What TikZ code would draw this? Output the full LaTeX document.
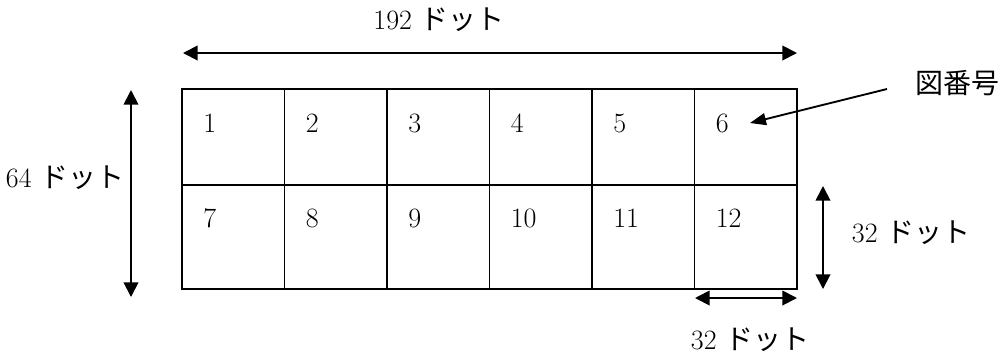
\documentclass[tikz,border=0pt]{standalone}
\usepackage{fontspec}
\newfontfamily\jpfont{Noto Sans CJK JP}
\usetikzlibrary{arrows.meta}
\begin{document}
\begin{tikzpicture}[x=0.75pt,y=-0.75pt,
  gridline/.style={line width=1.4pt},
  dimarrow/.style={line width=1.4pt,{Triangle[length=11pt,width=11pt]}-{Triangle[length=11pt,width=11pt]}},
  ptrarrow/.style={line width=1.4pt,-{Triangle[length=12pt,width=9pt]}},
  num/.style={anchor=west,inner sep=0pt,font=\fontsize{21}{24}\selectfont},
  dimlabel/.style={inner sep=0pt,font=\fontsize{21}{24}\selectfont}]
\useasboundingbox (0,0) rectangle (999,355);
% grid
\coordinate (tl) at (182,89);
\coordinate (br) at (797,289);
\draw[gridline] (tl) rectangle (br);
\draw[gridline] (182,185) -- (797,185);
\foreach \x in {284.5,387,489.5,592,694.5}{\draw[gridline] (\x,89) -- (\x,289);}
% numbers
\foreach \i/\x in {1/182,2/284.5,3/387,4/489.5,5/592,6/694.5}{
  \node[num] (n\i) at (\x+21,123) {\i};}
\foreach \i/\x in {7/182,8/284.5,9/387,10/489.5,11/592,12/694.5}{
  \node[num] (n\i) at (\x+21,218) {\i};}
% dimension arrows
\coordinate (ta) at (183,53); \coordinate (tb) at (797,53);
\draw[dimarrow] (ta) -- (tb);
\node[dimlabel] (t192) at (439,20) {192 {\jpfont ドット}};
\coordinate (la) at (131,90); \coordinate (lb) at (131,297);
\draw[dimarrow] (la) -- (lb);
\node[dimlabel] (t64) at (65,178) {64 {\jpfont ドット}};
\coordinate (ra) at (823,186); \coordinate (rb) at (823,289);
\draw[dimarrow] (ra) -- (rb);
\node[dimlabel] (t32r) at (911,233) {32 {\jpfont ドット}};
\coordinate (ba) at (695,298); \coordinate (bb) at (797,298);
\draw[dimarrow] (ba) -- (bb);
\node[dimlabel] (t32b) at (750,340) {32 {\jpfont ドット}};
% figure number label
\node[inner sep=0pt,font=\jpfont\fontsize{21}{24}\selectfont] (fig) at (957,83) {図番号};
\coordinate (fa) at (887,89);
\coordinate (fb) at (750,123);
\draw[ptrarrow] (fa) -- (fb);
\end{tikzpicture}
\end{document}
